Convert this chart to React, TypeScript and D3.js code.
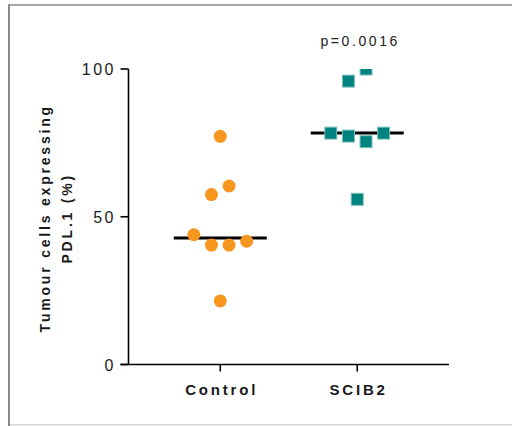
import React from "react";
import * as d3 from "d3";

// PD-L1 positive tumour cells (%) per sample
const groups = ["Control", "SCIB2"];
const controlValues = [77.2, 57.5, 60.4, 43.9, 40.4, 40.4, 41.7, 21.5];
const scib2Values = [95.9, 100, 78.3, 77.3, 75.4, 78.3, 55.9];
const yTicks = [0, 50, 100];
const pLabel = "p=0.0016";

const W = 512;
const H = 426;
const ORANGE = "#F7961E";
const TEAL = "#00827E";
const TEXT = "#1a1a1a";

type Pt = { v: number; dx: number };

// Spread overlapping points into centred rows (scatter-dot layout)
function layoutRows(values: number[], y: (v: number) => number, diam: number, step: number): Pt[] {
  const idx = values.map((v, i) => ({ v, i })).sort((a, b) => b.v - a.v);
  const rows: { v: number; i: number }[][] = [];
  for (const p of idx) {
    const last = rows[rows.length - 1];
    if (last && Math.abs(y(last[last.length - 1].v) - y(p.v)) < diam) last.push(p);
    else rows.push([p]);
  }
  const out: Pt[] = new Array(values.length);
  for (const row of rows) {
    const ordered = [...row].sort((a, b) => a.i - b.i);
    ordered.forEach((p, k) => {
      out[p.i] = { v: p.v, dx: (k - (ordered.length - 1) / 2) * step };
    });
  }
  return out;
}

export default function App() {
  const plotTop = 69;
  const plotBottom = 364.5;
  const plotLeft = 128.5;
  const plotRight = 449;

  const y = d3.scaleLinear().domain([0, 100]).range([plotBottom, plotTop]);
  const x = d3.scalePoint<string>().domain(groups).range([plotLeft, plotRight]).padding(0.67);

  const diam = 13;
  const step = 17.6;
  const ctrl = layoutRows(controlValues, y, diam, step);
  const sc = layoutRows(scib2Values, y, diam, step);
  const medCtrl = d3.median(controlValues)!;
  const medSc = d3.median(scib2Values)!;
  const medHalf = 46.5;

  const cx = x("Control")!;
  const sx = x("SCIB2")!;

  return (
    <svg
      width={W}
      height={H}
      style={{ position: "absolute", left: 0, top: 0, background: "#fff" }}
      fontFamily="'Liberation Sans', Arial, sans-serif"
    >
      <defs>
        <clipPath id="plotClip">
          <rect x={plotLeft} y={plotTop} width={plotRight - plotLeft} height={plotBottom - plotTop} />
        </clipPath>
      </defs>

      {/* panel frame */}
      <line x1={8} x2={W} y1={5} y2={5} stroke="#8a8a8a" strokeWidth={1.6} />
      <line x1={9} x2={9} y1={4.2} y2={H} stroke="#8a8a8a" strokeWidth={2} />
      <line x1={10} x2={W} y1={424.8} y2={424.8} stroke="#d6d6d6" strokeWidth={1.6} />

      {/* axes */}
      <line x1={plotLeft} x2={plotLeft} y1={plotTop} y2={plotBottom} stroke="#000" strokeWidth={1.6} />
      <line x1={plotLeft - 8} x2={plotRight} y1={plotBottom} y2={plotBottom} stroke="#000" strokeWidth={1.6} />
      {yTicks.map((t) => (
        <g key={t}>
          <line x1={plotLeft - 8} x2={plotLeft} y1={y(t)} y2={y(t)} stroke="#000" strokeWidth={1.6} />
          <text
            x={plotLeft - 15 + 2.5}
            y={y(t) + 6}
            textAnchor="end"
            fontSize={16}
            letterSpacing={2.5}
            fill={TEXT}
          >
            {t}
          </text>
        </g>
      ))}
      {groups.map((g) => (
        <g key={g}>
          <line x1={x(g)!} x2={x(g)!} y1={plotBottom} y2={plotBottom + 7} stroke="#000" strokeWidth={1.6} />
          <text
            x={x(g)! + 1.4}
            y={395}
            textAnchor="middle"
            fontSize={15}
            fontWeight="bold"
            letterSpacing={2.8}
            fill={TEXT}
          >
            {g}
          </text>
        </g>
      ))}

      {/* y-axis title */}
      <g transform={`translate(49.5, ${y(50) + 1.5}) rotate(-90)`}>
        <text textAnchor="middle" fontSize={14} fontWeight="bold" letterSpacing={2.8} fill={TEXT}>
          Tumour cells expressing
        </text>
        <text y={22} textAnchor="middle" fontSize={14} fontWeight="bold" letterSpacing={2.8} fill={TEXT}>
          PDL.1 (%)
        </text>
      </g>

      {/* p-value */}
      <text x={sx + 3} y={45.5} textAnchor="middle" fontSize={14} letterSpacing={2.6} fill="#222">
        {pLabel}
      </text>

      {/* medians */}
      <line x1={cx - medHalf} x2={cx + medHalf} y1={y(medCtrl)} y2={y(medCtrl)} stroke="#000" strokeWidth={3} />
      <line x1={sx - medHalf} x2={sx + medHalf} y1={y(medSc)} y2={y(medSc)} stroke="#000" strokeWidth={3} />

      <g clipPath="url(#plotClip)">
        {ctrl.map((p, i) => (
          <circle key={`c${i}`} cx={cx + p.dx} cy={y(p.v)} r={6.5} fill={ORANGE} />
        ))}
        {sc.map((p, i) => (
          <rect
            key={`s${i}`}
            x={sx + p.dx - 6}
            y={y(p.v) - 6}
            width={12}
            height={12}
            fill={TEAL}
            stroke="#7fc0bd"
            strokeWidth={1}
          />
        ))}
      </g>
    </svg>
  );
}
